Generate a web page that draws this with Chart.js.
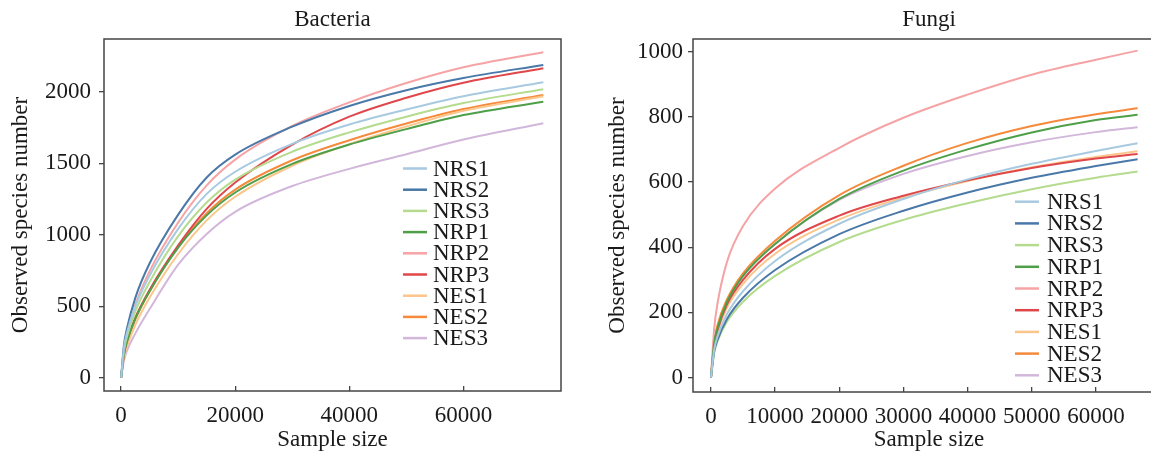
<!DOCTYPE html>
<html><head><meta charset="utf-8">
<script src="https://cdn.jsdelivr.net/npm/chart.js@4/dist/chart.umd.min.js"></script>
<style>
html,body{margin:0;padding:0;background:#fff;overflow:hidden;width:1151px;height:457px;}
#wrapL{position:absolute;left:0;top:0;width:580px;height:457px;}
#wrapR{position:absolute;left:600px;top:0;width:600px;height:457px;}
</style></head><body>
<div id="wrapL"><canvas id="cL"></canvas></div>
<div id="wrapR"><canvas id="cR"></canvas></div>
<script>
// ---------- data ----------
const seriesNames = ['NRS1','NRS2','NRS3','NRP1','NRP2','NRP3','NES1','NES2','NES3'];
const seriesColors = ['#a8cae0','#4a78a8','#b4db8e','#4e9f48','#f6a3a5','#df474b','#fbc68c','#f58a3c','#d2b7da'];

const bactTitle = 'Bacteria';
const fungiTitle = 'Fungi';
const xAxisTitle = 'Sample size';
const yAxisTitle = 'Observed species number';

const bactXTicks = [0, 20000, 40000, 60000];
const bactYTicks = [0, 500, 1000, 1500, 2000];
const fungiXTicks = [0, 10000, 20000, 30000, 40000, 50000, 60000];
const fungiYTicks = [0, 200, 400, 600, 800, 1000];

const bactX    = [0, 500, 1000, 2500, 5000, 10000, 15000, 20000, 30000, 40000, 50000, 60000, 74000];
const bactNRS1 = [0, 210, 310, 500, 715, 1040, 1285, 1440, 1635, 1770, 1875, 1968, 2066];
const bactNRS2 = [0, 230, 340, 560, 800, 1140, 1400, 1560, 1755, 1900, 2010, 2095, 2187];
const bactNRS3 = [0, 190, 285, 465, 670, 990, 1225, 1385, 1580, 1715, 1825, 1920, 2017];
const bactNRP1 = [0, 165, 250, 415, 605, 910, 1135, 1295, 1495, 1630, 1738, 1836, 1930];
const bactNRP2 = [0, 200, 300, 510, 745, 1085, 1345, 1525, 1760, 1925, 2060, 2170, 2275];
const bactNRP3 = [0, 160, 250, 420, 615, 925, 1180, 1365, 1630, 1825, 1957, 2062, 2164];
const bactNES1 = [0, 140, 215, 370, 560, 865, 1100, 1265, 1482, 1633, 1756, 1866, 1967];
const bactNES2 = [0, 160, 245, 410, 605, 915, 1150, 1315, 1520, 1660, 1777, 1878, 1977];
const bactNES3 = [0, 120, 185, 310, 480, 790, 1005, 1160, 1340, 1460, 1562, 1665, 1779];

const fungiX    = [0, 500, 1000, 2500, 5000, 10000, 20000, 30000, 40000, 50000, 60000, 66500];
const fungiNRS1 = [0, 85, 125, 195, 265, 358, 472, 548, 608, 656, 695, 719];
const fungiNRS2 = [0, 80, 115, 180, 245, 330, 440, 512, 568, 613, 649, 670];
const fungiNRS3 = [0, 75, 110, 172, 233, 312, 416, 484, 535, 578, 613, 632];
const fungiNRP1 = [0, 105, 150, 232, 312, 410, 548, 635, 700, 752, 790, 806];
const fungiNRP2 = [0, 150, 225, 355, 465, 580, 705, 797, 868, 929, 975, 1003];
const fungiNRP3 = [0, 100, 145, 225, 300, 395, 497, 558, 605, 643, 672, 686];
const fungiNES1 = [0, 95, 138, 215, 288, 380, 485, 552, 603, 645, 677, 694];
const fungiNES2 = [0, 110, 160, 240, 320, 420, 560, 650, 720, 772, 808, 826];
const fungiNES3 = [0, 105, 150, 232, 312, 410, 545, 625, 680, 722, 753, 768];

const bactSeries  = [bactNRS1, bactNRS2, bactNRS3, bactNRP1, bactNRP2, bactNRP3, bactNES1, bactNES2, bactNES3];
const fungiSeries = [fungiNRS1, fungiNRS2, fungiNRS3, fungiNRP1, fungiNRP2, fungiNRP3, fungiNES1, fungiNES2, fungiNES3];

// ---------- rendering ----------
const FONT = 'Liberation Serif, Times New Roman, serif';
const TXT = '#1a1a1a';
const AXC = '#444';

const framePlugin = {
  id: 'frame',
  afterDraw(chart) {
    const {ctx, chartArea: a} = chart;
    ctx.save();
    ctx.strokeStyle = AXC; ctx.lineWidth = 1.5;
    ctx.strokeRect(a.left, a.top, a.right - a.left, a.bottom - a.top);
    ctx.restore();
  }
};
const legendPlugin = {
  id: 'boxLegend',
  afterDraw(chart, args, o) {
    const ctx = chart.ctx;
    ctx.save();
    ctx.font = o.fontSize + 'px ' + FONT;
    ctx.textBaseline = 'middle';
    ctx.textAlign = 'left';
    chart.data.datasets.forEach((ds, i) => {
      const y = o.y + i * o.rowH;
      ctx.strokeStyle = ds.borderColor; ctx.lineWidth = 2.5;
      ctx.beginPath(); ctx.moveTo(o.x, y); ctx.lineTo(o.x + o.len, y); ctx.stroke();
      ctx.fillStyle = TXT;
      ctx.fillText(ds.label, o.x + o.len + o.gap, y + 1);
    });
    ctx.restore();
  }
};

function makeChart(id, title, xs, series, xTicks, yTicks, lim, lay, leg) {
  const datasets = series.map((s, i) => ({
    label: seriesNames[i],
    data: xs.map((x, j) => ({x: x, y: s[j]})),
    borderColor: seriesColors[i],
    borderWidth: 2,
    pointRadius: 0,
    fill: false,
    cubicInterpolationMode: 'monotone'
  }));
  return new Chart(document.getElementById(id), {
    type: 'line',
    data: {datasets},
    plugins: [framePlugin, legendPlugin],
    options: {
      responsive: true, maintainAspectRatio: false, animation: false,
      layout: {padding: {left: 0, right: lay.padRight, top: 0, bottom: 0}},
      plugins: {
        legend: {display: false},
        tooltip: {enabled: false},
        title: {display: true, text: title, color: TXT, fullSize: false,
          font: {family: FONT, size: 23, weight: 'normal', lineHeight: 1.2},
          padding: {top: 6, bottom: 5.4}},
        boxLegend: leg
      },
      scales: {
        x: {
          type: 'linear', min: lim.xmin, max: lim.xmax,
          afterBuildTicks: s => { s.ticks = xTicks.map(v => ({value: v})); },
          afterFit: s => { s.height = lay.xH; },
          border: {display: false},
          grid: {drawOnChartArea: false, drawTicks: true, tickLength: -5, color: AXC, lineWidth: 1.3},
          ticks: {color: TXT, padding: lay.xPad, maxRotation: 0, autoSkip: false,
            font: {family: FONT, size: 23}, callback: v => String(v)},
          title: {display: true, text: xAxisTitle, color: TXT,
            font: {family: FONT, size: 23, lineHeight: 1.2}, padding: {top: 0, bottom: 3}}
        },
        y: {
          type: 'linear', min: lim.ymin, max: lim.ymax,
          afterBuildTicks: s => { s.ticks = yTicks.map(v => ({value: v})); },
          afterFit: s => { s.width = lay.yW; },
          border: {display: false},
          grid: {drawOnChartArea: false, drawTicks: true, tickLength: 5, color: AXC, lineWidth: 1.3},
          ticks: {color: TXT, padding: lay.yPad, font: {family: FONT, size: 23}, callback: v => String(v)},
          title: {display: true, text: yAxisTitle, color: TXT,
            font: {family: FONT, size: 23, lineHeight: 1.2}, padding: {top: lay.yTitlePad, bottom: 0}}
        }
      }
    }
  });
}

makeChart('cL', bactTitle, bactX, bactSeries, bactXTicks, bactYTicks,
  {xmin: -3000, xmax: 77100, ymin: -93, ymax: 2368},
  {padRight: 19, xH: 66, yW: 104, xPad: 16, yPad: 8, yTitlePad: 7},
  {x: 403, y: 168.5, rowH: 21.2, len: 24, gap: 6, fontSize: 23});

makeChart('cR', fungiTitle, fungiX, fungiSeries, fungiXTicks, fungiYTicks,
  {xmin: -2800, xmax: 70770, ymin: -44, ymax: 1038.6},
  {padRight: 35, xH: 65, yW: 93, xPad: 16, yPad: 5, yTitlePad: 4},
  {x: 415, y: 201.7, rowH: 21.7, len: 24, gap: 8, fontSize: 23});
</script>
</body></html>
